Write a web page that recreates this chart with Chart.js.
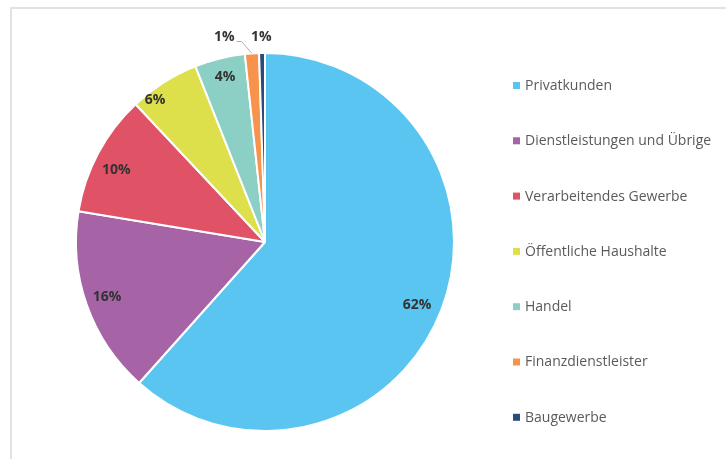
<!DOCTYPE html>
<html>
<head>
<meta charset="utf-8">
<script src="https://cdn.jsdelivr.net/npm/chart.js@4/dist/chart.umd.min.js"></script>
<style>
  html, body { margin: 0; padding: 0; background: #fff; }
  #wrap { position: relative; width: 726px; height: 459px; overflow: hidden; }
  #frame { position: absolute; left: 10px; top: 7px; right: -5px; bottom: -5px;
           border-top: 2px solid #e2e2e2; border-left: 2px solid #e2e2e2; }
  canvas { position: absolute; left: 0; top: 0; }
</style>
</head>
<body>
<div id="wrap">
  <div id="frame"></div>
  <canvas id="c" width="726" height="459"></canvas>
</div>
<script>
const categories = [
  'Privatkunden',
  'Dienstleistungen und Übrige',
  'Verarbeitendes Gewerbe',
  'Öffentliche Haushalte',
  'Handel',
  'Finanzdienstleister',
  'Baugewerbe'
];
const shares = [61.6, 16.0, 10.4, 6.0, 4.3, 1.2, 0.5];
const colors = ['#5bc5f2', '#a663a5', '#e05266', '#dde04b', '#8ccfc5', '#f7934c', '#2c4a7b'];

// label placement style: fraction along the slice angle, and fraction of the radius
const labelAngleFrac = [0.508, 0.506, 0.444, 0.25, 0.52];
const labelRadiusFrac = [0.872, 0.885, 0.875, 0.95, 0.90];

const sliceLabels = {
  id: 'sliceLabels',
  afterDatasetsDraw(chart) {
    const ctx = chart.ctx;
    const meta = chart.getDatasetMeta(0);
    const data = chart.data.datasets[0].data;
    ctx.save();
    ctx.font = 'bold 14px "Open Sans"';
    ctx.fillStyle = '#333333';
    ctx.textAlign = 'center';
    ctx.textBaseline = 'middle';
    let prevX = null;
    for (let i = meta.data.length - 1; i >= 0; i--) {
      const arc = meta.data[i];
      const p = arc.getProps(['x', 'y', 'startAngle', 'endAngle', 'outerRadius'], true);
      const txt = Math.round(data[i]) + '%';
      if (data[i] >= 2) {
        const f = labelAngleFrac[i] !== undefined ? labelAngleFrac[i] : 0.5;
        const rf = labelRadiusFrac[i] !== undefined ? labelRadiusFrac[i] : 0.88;
        const a = p.startAngle + (p.endAngle - p.startAngle) * f;
        const r = p.outerRadius * rf;
        ctx.fillText(txt, p.x + Math.cos(a) * r, p.y + Math.sin(a) * r);
      } else {
        const mid = (p.startAngle + p.endAngle) / 2;
        const ex = p.x + Math.cos(mid) * p.outerRadius;
        const ey = p.y + Math.sin(mid) * p.outerRadius;
        const ly = p.y - p.outerRadius - 16;
        let lx = ex - 0.7;
        if (prevX !== null && prevX - lx < 30) {
          lx = prevX - 37;
          const w = ctx.measureText(txt).width;
          ctx.strokeStyle = '#b0b0b0';
          ctx.lineWidth = 1;
          ctx.beginPath();
          ctx.moveTo(lx + w / 2 + 2, ly + 4.5);
          ctx.lineTo(lx + w / 2 + 7, ly + 4.5);
          ctx.lineTo(ex, ey);
          ctx.stroke();
        }
        ctx.fillText(txt, lx, ly);
        prevX = lx;
      }
    }
    ctx.restore();
  }
};

const sideLegend = {
  id: 'sideLegend',
  afterDraw(chart) {
    const ctx = chart.ctx;
    const labels = chart.data.labels;
    const cols = chart.data.datasets[0].backgroundColor;
    ctx.save();
    ctx.font = '14px "Open Sans"';
    ctx.textAlign = 'left';
    ctx.textBaseline = 'middle';
    labels.forEach((lab, i) => {
      const y = 86 + i * 55.3;
      ctx.fillStyle = cols[i];
      ctx.fillRect(513, y - 4, 7, 7);
      ctx.fillStyle = '#5a5a5a';
      ctx.fillText(lab, 525, y);
    });
    ctx.restore();
  }
};

new Chart(document.getElementById('c'), {
  type: 'pie',
  data: {
    labels: categories,
    datasets: [{
      data: shares,
      backgroundColor: colors,
      borderColor: '#ffffff',
      borderWidth: 2,
      hoverOffset: 0
    }]
  },
  options: {
    responsive: false,
    animation: false,
    devicePixelRatio: 1,
    radius: 189,
    layout: { padding: { left: 0, right: 196, top: 25, bottom: 0 } },
    plugins: {
      legend: { display: false },
      tooltip: { enabled: false }
    }
  },
  plugins: [sliceLabels, sideLegend]
});
</script>
</body>
</html>
